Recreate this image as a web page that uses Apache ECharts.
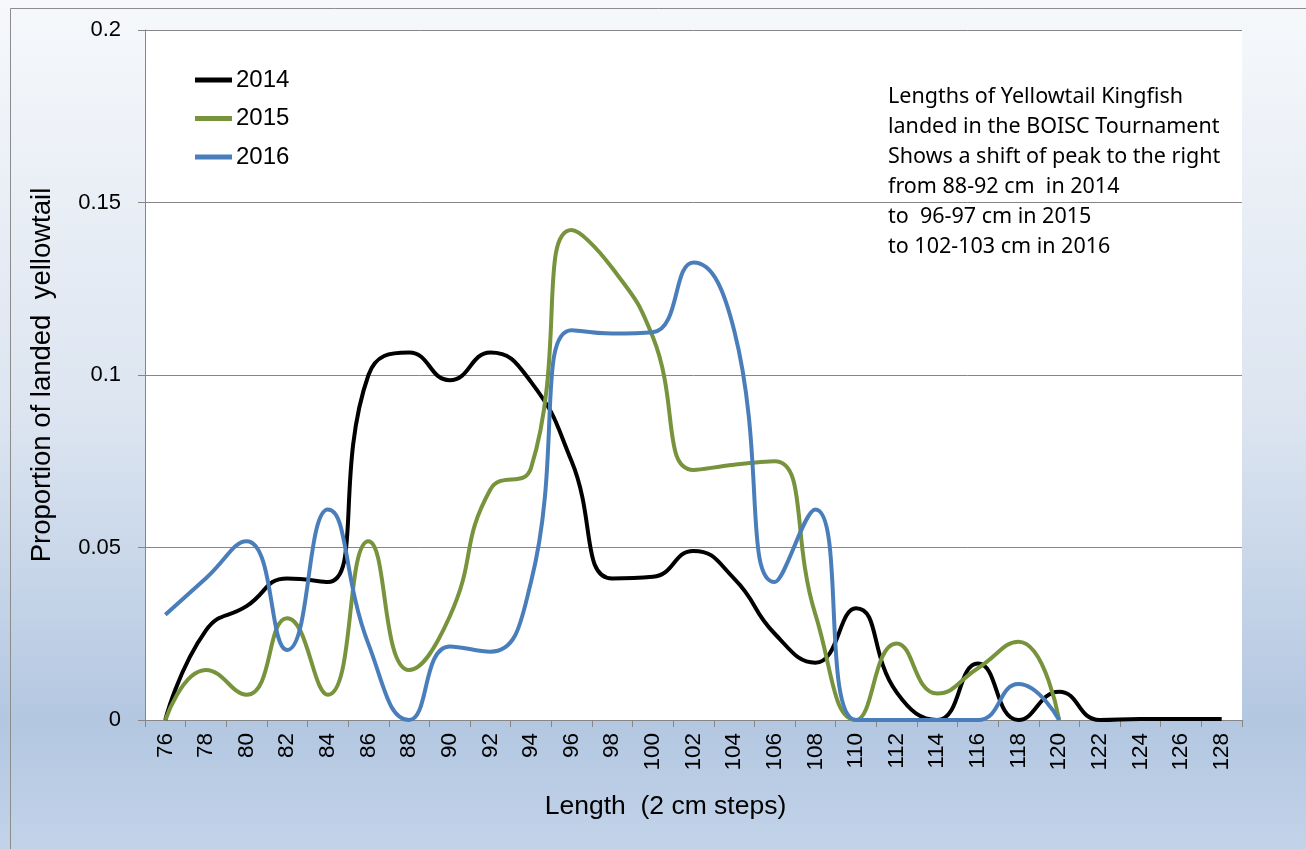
<!DOCTYPE html>
<html lang="en">
<head>
    <meta charset="UTF-8">
    <title>Yellowtail Kingfish lengths</title>
    <script src="https://cdn.jsdelivr.net/npm/echarts@6/dist/echarts.min.js"></script>
</head>
<body style="margin:0">
<div id="box" style="width: 1306px;height: 849px;"></div>
<script>
    var lengths = ['76','78','80','82','84','86','88','90','92','94','96','98','100','102','104','106','108','110','112','114','116','118','120','122','124','126','128'];
    var y2014 = [0, 0.026, 0.033, 0.041, 0.040, 0.100, 0.1065, 0.0985, 0.1065, 0.098, 0.075, 0.041, 0.0415, 0.049, 0.041, 0.025, 0.0166, 0.0324, 0.008, 0, 0.0164, 0, 0.0082, 0, 0.0003, 0.0003, 0.0003];
    var y2015 = [0, 0.0145, 0.0073, 0.0295, 0.0073, 0.0518, 0.0145, 0.030, 0.0668, 0.073, 0.142, 0.131, 0.111, 0.0725, 0.074, 0.075, 0.0306, 0, 0.0222, 0.0077, 0.015, 0.0227, 0];
    var y2016 = [0.0305, 0.0411, 0.0518, 0.0203, 0.061, 0.022, 0, 0.0213, 0.0198, 0.040, 0.113, 0.112, 0.1124, 0.1326, 0.113, 0.040, 0.061, 0, 0, 0, 0, 0.0104, 0];
    var note = 'Lengths of Yellowtail Kingfish\nlanded in the BOISC Tournament\nShows a shift of peak to the right\nfrom 88-92 cm  in 2014\nto  96-97 cm in 2015\nto 102-103 cm in 2016';

    var chart = echarts.init(document.getElementById('box'));
    var font = '"Liberation Sans", Arial, sans-serif';
    var option = {
        backgroundColor: {
            type: 'linear', x: 0, y: 0, x2: 0, y2: 1,
            colorStops: [
                {offset: 0, color: '#f6f8fb'},
                {offset: 0.5, color: '#dbe4f0'},
                {offset: 0.85, color: '#b3c7e1'},
                {offset: 1, color: '#c2d3e9'}
            ]
        },
        textStyle: {fontFamily: font},
        grid: {
            left: 145, top: 30, right: 64, bottom: 129,
            show: true, backgroundColor: '#ffffff', borderWidth: 0
        },
        legend: {
            orient: 'vertical', left: 190, top: 63,
            icon: 'rect', itemWidth: 37, itemHeight: 5, itemGap: 14.5,
            textStyle: {fontSize: 24, color: '#000', fontFamily: font, padding: [0, 0, 0, -1]},
            data: ['2014', '2015', '2016']
        },
        graphic: [
            {type: 'rect', left: 8, top: 6, shape: {width: 1297, height: 842},
                style: {fill: 'none', stroke: '#8c8c8c', lineWidth: 1}, silent: true},
            {type: 'text', left: 888, top: 82,
                style: {text: note, font: '21.5px "Noto Sans", sans-serif', fill: '#000', lineHeight: 29.9}}
        ],
        xAxis: {
            type: 'category',
            data: lengths,
            boundaryGap: true,
            name: 'Length  (2 cm steps)',
            nameLocation: 'middle',
            nameGap: 73,
            nameTextStyle: {fontSize: 26.5, color: '#000', padding: [0, 56, 0, 0]},
            axisLine: {lineStyle: {color: '#868686', width: 1}},
            axisTick: {show: true, length: 7, lineStyle: {color: '#868686'}},
            axisLabel: {rotate: 90, fontSize: 22.5, color: '#000', margin: 13, interval: 0}
        },
        yAxis: {
            type: 'value',
            min: 0, max: 0.2, interval: 0.05,
            name: 'Proportion of landed  yellowtail',
            nameLocation: 'middle',
            nameGap: 89,
            nameTextStyle: {fontSize: 27.5, color: '#000'},
            axisLine: {show: true, lineStyle: {color: '#868686'}},
            axisTick: {show: true, length: 7, lineStyle: {color: '#868686'}},
            axisLabel: {fontSize: 22, color: '#000', margin: 24},
            splitLine: {lineStyle: {color: '#868686', width: 1}}
        },
        series: [
            {name: '2014', type: 'line', data: y2014, smooth: true, showSymbol: false,
                color: '#000000', lineStyle: {width: 4, color: '#000000'}},
            {name: '2015', type: 'line', data: y2015, smooth: true, showSymbol: false,
                color: '#77933c', lineStyle: {width: 4, color: '#77933c'}},
            {name: '2016', type: 'line', data: y2016, smooth: true, showSymbol: false,
                color: '#4a7ebb', lineStyle: {width: 4, color: '#4a7ebb'}}
        ]
    };
    chart.setOption(option);
</script>
</body>
</html>
